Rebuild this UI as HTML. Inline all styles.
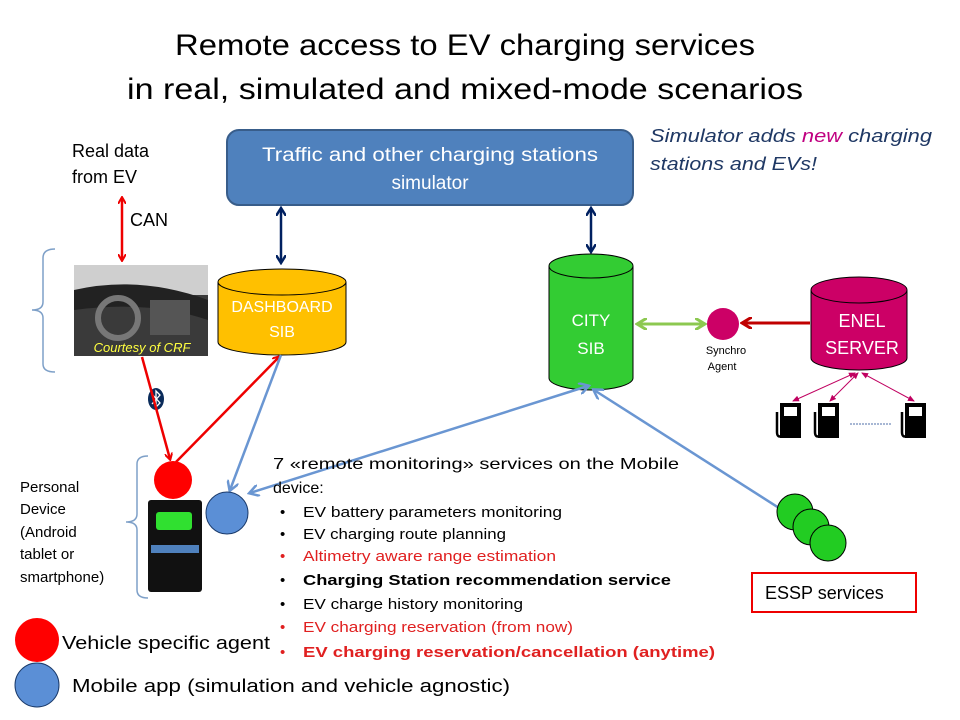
<!DOCTYPE html>
<html><head><meta charset="utf-8"><style>
html,body{margin:0;padding:0;background:#fff;width:960px;height:720px;overflow:hidden}
svg{display:block;font-family:"Liberation Sans",sans-serif}
</style></head><body>
<svg width="960" height="720" viewBox="0 0 960 720" xmlns="http://www.w3.org/2000/svg">
<defs>
<marker id="mr" markerWidth="8" markerHeight="8" refX="6" refY="4" orient="auto-start-reverse" markerUnits="userSpaceOnUse"><path d="M0,0 L7,4 L0,8" fill="none" stroke="#e00" stroke-width="2"/></marker>
<marker id="mn" markerWidth="10" markerHeight="10" refX="7" refY="5" orient="auto-start-reverse" markerUnits="userSpaceOnUse"><path d="M0,0 L8,5 L0,10" fill="none" stroke="#002060" stroke-width="2.5"/></marker>
<marker id="mb" markerWidth="12" markerHeight="12" refX="9" refY="6" orient="auto-start-reverse" markerUnits="userSpaceOnUse"><path d="M0,0 L10,6 L0,12" fill="none" stroke="#6a96d2" stroke-width="2.5"/></marker>
<marker id="mg" markerWidth="12" markerHeight="12" refX="9" refY="6" orient="auto-start-reverse" markerUnits="userSpaceOnUse"><path d="M0,0 L10,6 L0,12" fill="none" stroke="#8cc850" stroke-width="3"/></marker>
<marker id="md" markerWidth="12" markerHeight="12" refX="9" refY="6" orient="auto-start-reverse" markerUnits="userSpaceOnUse"><path d="M0,0 L10,6 L0,12" fill="none" stroke="#c00000" stroke-width="3"/></marker>
<marker id="mp" markerWidth="8" markerHeight="8" refX="6" refY="4" orient="auto-start-reverse" markerUnits="userSpaceOnUse"><path d="M0,1 L7,4 L0,7z" fill="#c00060"/></marker>
</defs>

<text x="465" y="55" font-size="30" text-anchor="middle" fill="#000" textLength="580" lengthAdjust="spacingAndGlyphs">Remote access to EV charging services</text>
<text x="465" y="99" font-size="30" text-anchor="middle" fill="#000" textLength="676" lengthAdjust="spacingAndGlyphs">in real, simulated and mixed-mode scenarios</text>

<rect x="227" y="130" width="406" height="75" rx="12" fill="#4f81bd" stroke="#385d8a" stroke-width="2"/>
<text x="430" y="161" font-size="19" fill="#fff" text-anchor="middle" textLength="336" lengthAdjust="spacingAndGlyphs">Traffic and other charging stations</text>
<text x="430" y="189" font-size="19" fill="#fff" text-anchor="middle">simulator</text>

<g font-size="18" font-style="italic" fill="#1f3864">
<text x="650" y="142" textLength="282" lengthAdjust="spacingAndGlyphs">Simulator adds <tspan fill="#c00080">new</tspan> charging</text>
<text x="650" y="170" textLength="167" lengthAdjust="spacingAndGlyphs">stations and EVs!</text>
</g>

<g font-size="18" fill="#000">
<text x="72" y="157">Real data</text>
<text x="72" y="183">from  EV</text>
<text x="130" y="226">CAN</text>
</g>
<line x1="122" y1="198" x2="122" y2="260" stroke="#e00" stroke-width="2.5" marker-start="url(#mr)" marker-end="url(#mr)"/>

<line x1="281" y1="209" x2="281" y2="262" stroke="#002060" stroke-width="2.5" marker-start="url(#mn)" marker-end="url(#mn)"/>
<line x1="591" y1="209" x2="591" y2="251" stroke="#002060" stroke-width="2.5" marker-start="url(#mn)" marker-end="url(#mn)"/>

<!-- brace top -->
<path d="M55,249 Q43,249 43,258 L43,302 Q43,310 32,310 Q43,310 43,318 L43,364 Q43,372 55,372" fill="none" stroke="#7ea0c8" stroke-width="1.5"/>
<!-- car photo -->
<rect x="74" y="265" width="134" height="91" fill="#3a3a3a"/>
<rect x="74" y="265" width="134" height="30" fill="#cfcfcf"/>
<path d="M74,290 Q140,275 208,300 L208,320 Q150,300 74,310z" fill="#222"/>
<circle cx="118" cy="318" r="20" fill="none" stroke="#777" stroke-width="6"/>
<rect x="150" y="300" width="40" height="35" fill="#555"/>
<text x="142" y="352" font-size="13" font-style="italic" fill="#ffff40" text-anchor="middle">Courtesy of CRF</text>

<!-- dashboard cylinder -->
<path d="M218,282 L218,342 A64,13 0 0 0 346,342 L346,282" fill="#ffc000" stroke="#000" stroke-width="1"/>
<ellipse cx="282" cy="282" rx="64" ry="13" fill="#ffc000" stroke="#000" stroke-width="1"/>
<text x="282" y="312" font-size="16" fill="#fff" text-anchor="middle">DASHBOARD</text>
<text x="282" y="337" font-size="16" fill="#fff" text-anchor="middle">SIB</text>

<!-- city cylinder -->
<path d="M549,266 L549,378 A42,12 0 0 0 633,378 L633,266" fill="#33cc33" stroke="#000" stroke-width="1"/>
<ellipse cx="591" cy="266" rx="42" ry="12" fill="#33cc33" stroke="#000" stroke-width="1"/>
<text x="591" y="326" font-size="17" fill="#fff" text-anchor="middle">CITY</text>
<text x="591" y="354" font-size="17" fill="#fff" text-anchor="middle">SIB</text>

<line x1="638" y1="324" x2="704" y2="324" stroke="#8cc850" stroke-width="3" marker-start="url(#mg)" marker-end="url(#mg)"/>
<circle cx="723" cy="324" r="16" fill="#cc0066"/>
<text x="726" y="354" font-size="11" fill="#000" text-anchor="middle">Synchro</text>
<text x="722" y="370" font-size="11" fill="#000" text-anchor="middle">Agent</text>
<line x1="810" y1="323" x2="743" y2="323" stroke="#c00000" stroke-width="3" marker-end="url(#md)"/>

<!-- enel -->
<path d="M811,290 L811,358 A48,12 0 0 0 907,358 L907,290" fill="#cc0066" stroke="#000" stroke-width="1"/>
<ellipse cx="859" cy="290" rx="48" ry="13" fill="#cc0066" stroke="#000" stroke-width="1"/>
<text x="862" y="327" font-size="18" fill="#fff" text-anchor="middle">ENEL</text>
<text x="862" y="354" font-size="18" fill="#fff" text-anchor="middle">SERVER</text>
<g stroke="#c00060" stroke-width="1" marker-end="url(#mp)" marker-start="url(#mp)">
<line x1="855" y1="373" x2="793" y2="401"/>
<line x1="858" y1="373" x2="830" y2="401"/>
<line x1="862" y1="373" x2="914" y2="401"/>
</g>
<g fill="#000">
<rect x="780" y="403" width="21" height="35"/><rect x="784" y="407" width="13" height="9" fill="#fff"/>
<rect x="818" y="403" width="21" height="35"/><rect x="822" y="407" width="13" height="9" fill="#fff"/>
<rect x="905" y="403" width="21" height="35"/><rect x="909" y="407" width="13" height="9" fill="#fff"/>
</g>
<g fill="none" stroke="#000" stroke-width="2.5">
<path d="M777,412 L777,432 Q777,438 782,436"/>
<path d="M815,412 L815,432 Q815,438 820,436"/>
<path d="M902,412 L902,432 Q902,438 907,436"/>
</g>
<line x1="850" y1="424" x2="892" y2="424" stroke="#4f6fa8" stroke-width="1" stroke-dasharray="2,1"/>

<!-- bluetooth -->
<ellipse cx="156" cy="399" rx="8" ry="11" fill="#0a2b5a"/>
<path d="M152,394 L160,403 L156,407 L156,391 L160,395 L152,404" fill="none" stroke="#fff" stroke-width="1.3"/>

<!-- red arrows -->
<line x1="142" y1="357" x2="170" y2="459" stroke="#e00" stroke-width="2.5" marker-end="url(#mr)"/>
<line x1="176" y1="462" x2="279" y2="357" stroke="#e00" stroke-width="2.5" marker-end="url(#mr)"/>
<!-- blue arrows -->
<line x1="281" y1="355" x2="230" y2="490" stroke="#6a96d2" stroke-width="2.5" marker-end="url(#mb)"/>
<line x1="250" y1="493" x2="588" y2="386" stroke="#6a96d2" stroke-width="2.5" marker-start="url(#mb)" marker-end="url(#mb)"/>
<line x1="790" y1="515" x2="594" y2="390" stroke="#6a96d2" stroke-width="2.5" marker-end="url(#mb)"/>

<!-- lower brace -->
<path d="M148,456 Q137,456 137,464 L137,514 Q137,522 126,522 Q137,522 137,530 L137,590 Q137,598 148,598" fill="none" stroke="#7ea0c8" stroke-width="1.5"/>
<g font-size="15" fill="#000">
<text x="20" y="492">Personal</text>
<text x="20" y="514">Device</text>
<text x="20" y="537">(Android</text>
<text x="20" y="559">tablet or</text>
<text x="20" y="582">smartphone)</text>
</g>
<!-- phone -->
<rect x="148" y="500" width="54" height="92" rx="3" fill="#111"/>
<rect x="156" y="512" width="36" height="18" rx="3" fill="#30e030"/>
<rect x="151" y="545" width="48" height="8" fill="#4f81bd"/>
<circle cx="173" cy="480" r="19" fill="#ff0000"/>
<circle cx="227" cy="513" r="21" fill="#5b8fd6" stroke="#1a3a6a" stroke-width="1"/>

<!-- services text -->
<g font-size="16" fill="#000">
<text x="273" y="469" textLength="406" lengthAdjust="spacingAndGlyphs">7 «remote monitoring»  services on the Mobile</text>
<text x="273" y="493">device:</text>
</g>
<g font-size="15">
<text x="280" y="517">•</text><text x="303" y="517" fill="#000" textLength="259" lengthAdjust="spacingAndGlyphs">EV battery parameters monitoring</text>
<text x="280" y="539">•</text><text x="303" y="539" fill="#000" textLength="203" lengthAdjust="spacingAndGlyphs">EV charging route planning</text>
<text x="280" y="561" fill="#e02020">•</text><text x="303" y="561" fill="#e02020" textLength="253" lengthAdjust="spacingAndGlyphs">Altimetry aware range estimation</text>
<text x="280" y="585">•</text><text x="303" y="585" fill="#000" font-weight="bold" textLength="368" lengthAdjust="spacingAndGlyphs">Charging  Station  recommendation  service</text>
<text x="280" y="609">•</text><text x="303" y="609" fill="#000" textLength="220" lengthAdjust="spacingAndGlyphs">EV charge history monitoring</text>
<text x="280" y="632" fill="#e02020">•</text><text x="303" y="632" fill="#e02020" textLength="270" lengthAdjust="spacingAndGlyphs">EV charging reservation (from now)</text>
<text x="280" y="657" fill="#e02020">•</text><text x="303" y="657" fill="#e02020" font-weight="bold" textLength="412" lengthAdjust="spacingAndGlyphs">EV charging reservation/cancellation  (anytime)</text>
</g>

<!-- ESSP -->
<circle cx="795" cy="512" r="18" fill="#22cc22" stroke="#000" stroke-width="1"/>
<circle cx="811" cy="527" r="18" fill="#22cc22" stroke="#000" stroke-width="1"/>
<circle cx="828" cy="543" r="18" fill="#22cc22" stroke="#000" stroke-width="1"/>
<rect x="752" y="573" width="164" height="39" fill="#fff" stroke="#e00" stroke-width="2"/>
<text x="765" y="599" font-size="18" fill="#000">ESSP services</text>

<!-- legend -->
<circle cx="37" cy="640" r="22" fill="#ff0000"/>
<text x="62" y="649" font-size="18" fill="#000" textLength="208" lengthAdjust="spacingAndGlyphs">Vehicle specific agent</text>
<circle cx="37" cy="685" r="22" fill="#5b8fd6" stroke="#1a3a6a" stroke-width="1"/>
<text x="72" y="692" font-size="18" fill="#000" textLength="438" lengthAdjust="spacingAndGlyphs">Mobile app (simulation and vehicle agnostic)</text>
</svg>
</body></html>
